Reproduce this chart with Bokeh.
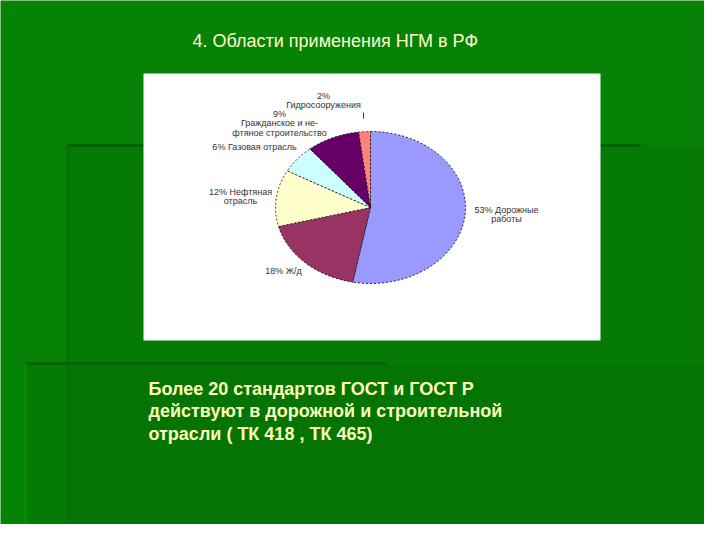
import numpy as np
from bokeh.plotting import figure
from bokeh.models import Range1d
from bokeh.core.properties import value
from bokeh.embed import file_html
from bokeh.resources import INLINE

# ---- data ----
categories = ["Дорожные работы", "Ж/д", "Нефтяная отрасль", "Газовая отрасль",
              "Гражданское и нефтяное строительство", "Гидросооружения"]
shares = [53, 18, 12, 6, 9, 2]
slice_colors = ["#9999FF", "#993366", "#FFFFCC", "#CCFFFF", "#660066", "#FF8080"]
label_names = ["Дорожные\nработы", "Ж/д", "Нефтяная\nотрасль", "Газовая отрасль",
               "\nГражданское и не-\nфтяное строительство", "\nГидросооружения"]
title_text = "4. Области применения НГМ в РФ"
body_text = ["Более 20 стандартов  ГОСТ и ГОСТ Р",
             "действуют в дорожной и строительной",
             "отрасли ( ТК 418 , ТК 465)"]

# ---- layout ----
W, H = 720, 540
p = figure(width=704, height=524, x_range=Range1d(0, 704), y_range=Range1d(524, 0),
           output_backend="svg", toolbar_location=None, min_border=0)
p.axis.visible = False
p.grid.visible = False
p.outline_line_color = None
p.background_fill_color = "#068206"
p.border_fill_color = "#068206"

# background gradient (slide template)
yy, xx = np.mgrid[0:H, 0:W].astype(float)
t = np.clip(yy / H, 0, 1) ** 0.8 * np.clip(1 - xx / 200.0, 0, 1) ** 1.1
r = 4 * (1 - t)
g = 128 * (1 - t) + 206 * t
b = 4 * (1 - t)
img = np.empty((H, W), dtype=np.uint32)
view = img.view(dtype=np.uint8).reshape((H, W, 4))
view[:, :, 0] = r.astype(np.uint8)
view[:, :, 1] = g.astype(np.uint8)
view[:, :, 2] = b.astype(np.uint8)
view[:, :, 3] = 255
p.image_rgba(image=[img[::-1]], x=0, y=H, dw=W, dh=H)

# decorative panels
p.quad(left=67, right=720, top=145, bottom=540, fill_color="black", fill_alpha=0.05, line_color=None)
p.quad(left=25, right=720, top=363, bottom=540, fill_color="black", fill_alpha=0.05, line_color=None)
p.segment(x0=[67, 67, 25, 25], y0=[145, 145, 363, 363], x1=[640, 67, 385, 25], y1=[145, 540, 363, 540],
          line_color=["#005f00", "#0a6e0a", "#006400", "#089008"], line_width=[3, 2, 3, 2], line_alpha=0.9)

# white chart area
p.quad(left=143, right=600, top=73, bottom=340, fill_color="white", line_color=None)

# pie (elliptical, top start, clockwise)
cx, cy, rx, ry = 370, 207, 95, 76
fr = np.array(shares, dtype=float) / sum(shares)
edges = np.concatenate([[0], np.cumsum(fr)]) * 2 * np.pi
xs, ys = [], []
for a0, a1 in zip(edges[:-1], edges[1:]):
    th = np.linspace(a0, a1, 80)
    xs.append(np.concatenate([[cx], cx + rx * np.sin(th)]))
    ys.append(np.concatenate([[cy], cy - ry * np.cos(th)]))
p.patches(xs=xs, ys=ys, fill_color=slice_colors, line_color="black", line_width=0.8, line_dash="2 2")

# pie labels
lab_x = [506, 283, 240, 254, 279, 323]
lab_y = [214, 270, 196, 146, 123, 100]
lab_text = []
for s, n in zip(shares, label_names):
    lab_text.append(f"{s}%" + n if n.startswith("\n") else f"{s}% " + n)
p.text(x=lab_x, y=lab_y, text=lab_text, text_font=value("Liberation Sans"), text_font_size="9px",
       text_color="#333333", text_align="center", text_baseline="middle", text_line_height=0.92)
p.segment(x0=[363], y0=[112], x1=[363], y1=[118], line_color="#333333", line_width=1)

# title
p.text(x=[192], y=[40], text=[title_text], text_font=value("Liberation Sans"), text_font_size="18px",
       text_color="#FFFFCC", text_align="left", text_baseline="middle")

# body text
p.text(x=[148] * 3, y=[388, 410, 433], text=body_text, text_font=value("Liberation Sans"),
       text_font_size="18px", text_font_style="bold", text_color="#FFFFBB",
       text_align="left", text_baseline="middle")

open("out.html", "w").write(file_html(p, INLINE))
